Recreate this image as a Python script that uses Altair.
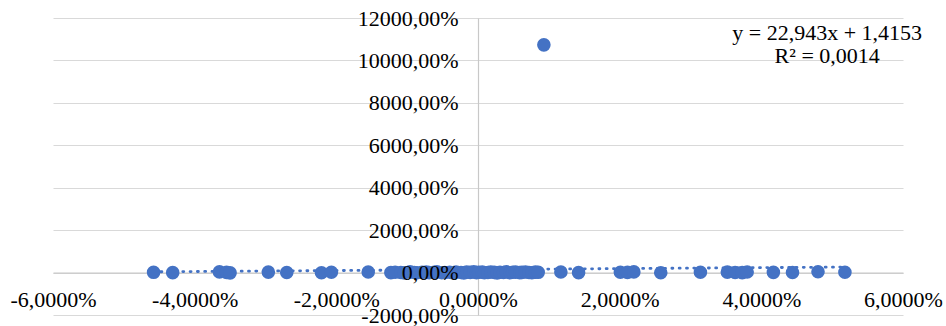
import altair as alt
import pandas as pd

# ---- data (x as fraction, y as fraction; axis labels show them as %) ----
x_values = [
    -0.0458, -0.0431, -0.0365, -0.0355, -0.0350, -0.0296, -0.0270, -0.0221, -0.0207, -0.0155,
    -0.0123, -0.0117, -0.0109, -0.0104, -0.0096, -0.0090, -0.0086, -0.0079, -0.0073, -0.0069,
    -0.0062, -0.0058, -0.0051, -0.0047, -0.0040, -0.0036, -0.0031, -0.0024, -0.0020, -0.0016,
    -0.0011, -0.0006, -0.0002, 0.0001, 0.0006, 0.0009, 0.0014, 0.0018, 0.0023, 0.0027,
    0.0031, 0.0036, 0.0040, 0.0045, 0.0049, 0.0053, 0.0059, 0.0062, 0.0067, 0.0072,
    0.0076, 0.0081, 0.0085, 0.0093,
    0.0117, 0.0142, 0.0201, 0.0211, 0.0220, 0.0258, 0.0314, 0.0352, 0.0363, 0.0373,
    0.0380, 0.0417, 0.0444, 0.0480, 0.0518,
]
y_values = [
    0.12, -0.05, 0.31, 0.08, -0.12, 0.22, 0.04, -0.09, 0.15, 0.27,
    -0.03, 0.18, 0.06, -0.14, 0.35, 0.02, -0.07, 0.11, 0.24, -0.02,
    0.09, 0.41, -0.11, 0.05, 0.16, -0.06, 0.28, 0.03, -0.15, 0.19,
    0.07, 0.33, -0.04, 0.13, 0.21, -0.08, 0.01, 0.26, 0.10, -0.13,
    0.17, 0.04, 0.38, -0.06, 0.14, 0.23, -0.01, 0.09, 0.30, 0.05,
    -0.10, 0.20, 0.12, 107.35,
    0.25, -0.04, 0.18, 0.07, 0.32, -0.09, 0.14, 0.22, 0.03, -0.05,
    0.29, 0.11, 0.06, 0.37, 0.16,
]
slope = 22.943
intercept = 1.4153
equation_lines = ["y = 22,943x + 1,4153", "R² = 0,0014"]
x_ticks = [-0.06, -0.04, -0.02, 0.0, 0.02, 0.04, 0.06]
y_ticks = [-20, 0, 20, 40, 60, 80, 100, 120]

df = pd.DataFrame({"x": x_values, "y": y_values})
one_row = pd.DataFrame({"k": [0]})

# ---- layout / style ----
W, H = 850, 297
BLUE = "#4472C4"
FONT = "Liberation Serif"
FS = 22
xs = alt.Scale(domain=[-0.06, 0.06], nice=False, zero=False)
ys = alt.Scale(domain=[-20, 120], nice=False, zero=False)
x_off = -H * 20 / 140   # x axis sits at y = 0
y_off = -W / 2          # y axis sits at x = 0

x_label_expr = "replace(replace(format(datum.value, '.4%'), '.', ','), '\u2212', '-')"
y_label_expr = "replace(replace(format(datum.value, '.2%'), '.', ','), '\u2212', '-')"

# points, carrying the horizontal gridlines
points = alt.Chart(df).mark_circle(size=185, color=BLUE, opacity=1).encode(
    x=alt.X("x:Q", scale=xs, axis=None),
    y=alt.Y("y:Q", scale=ys, axis=alt.Axis(
        values=y_ticks, grid=True, gridColor="#d9d9d9", gridWidth=1.2,
        labels=False, ticks=False, domain=False, title=None,
        orient="left", zindex=0)),
)

# dotted linear trendline, carrying the axis lines through zero
trend = alt.Chart(df).transform_calculate(
    trend=f"{slope} * datum.x + {intercept}"
).mark_line(color=BLUE, strokeDash=[1, 6.3], strokeWidth=2.8, strokeCap="round").encode(
    x=alt.X("x:Q", scale=xs, axis=alt.Axis(
        values=x_ticks, grid=False, labels=False, ticks=False,
        domain=True, domainColor="#c8c8c8", domainWidth=1.2,
        offset=x_off, orient="bottom", title=None, zindex=0)),
    y=alt.Y("trend:Q", scale=ys, axis=alt.Axis(
        values=y_ticks, grid=False, labels=False, ticks=False,
        domain=True, domainColor="#c8c8c8", domainWidth=1.2,
        offset=y_off, orient="left", title=None, zindex=0)),
    order="x:Q",
)

# trendline equation, carrying the tick labels drawn above the marks
equation = alt.Chart(one_row).mark_text(
    text=equation_lines, font=FONT, fontSize=FS, color="#000000",
    align="center", baseline="middle", lineHeight=23,
).encode(
    x=alt.XDatum(0.0493, type="quantitative", scale=xs, axis=alt.Axis(
        values=x_ticks, labelExpr=x_label_expr, labelFont=FONT, labelFontSize=FS,
        labelColor="#000000", labelPadding=17, labelFlush=False, labelOverlap=False,
        ticks=False, domain=False, grid=False, offset=x_off, orient="bottom",
        title=None, zindex=1)),
    y=alt.YDatum(112.9, type="quantitative", scale=ys, axis=alt.Axis(
        values=y_ticks, labelExpr=y_label_expr, labelFont=FONT, labelFontSize=FS,
        labelColor="#000000", labelPadding=20, labelFlush=False, labelOverlap=False,
        ticks=False, domain=False, grid=False, offset=y_off, orient="left",
        title=None, zindex=1)),
)

chart = alt.layer(trend, points, equation).resolve_axis(
    x="independent", y="independent"
).properties(
    width=W, height=H,
    padding={"left": 53, "top": 18, "right": 43, "bottom": 11},
    autosize=alt.AutoSizeParams(type="none"),
    background="white",
).configure_view(stroke=None)

chart.save("out.html", embed_options={"renderer": "svg", "actions": False})
